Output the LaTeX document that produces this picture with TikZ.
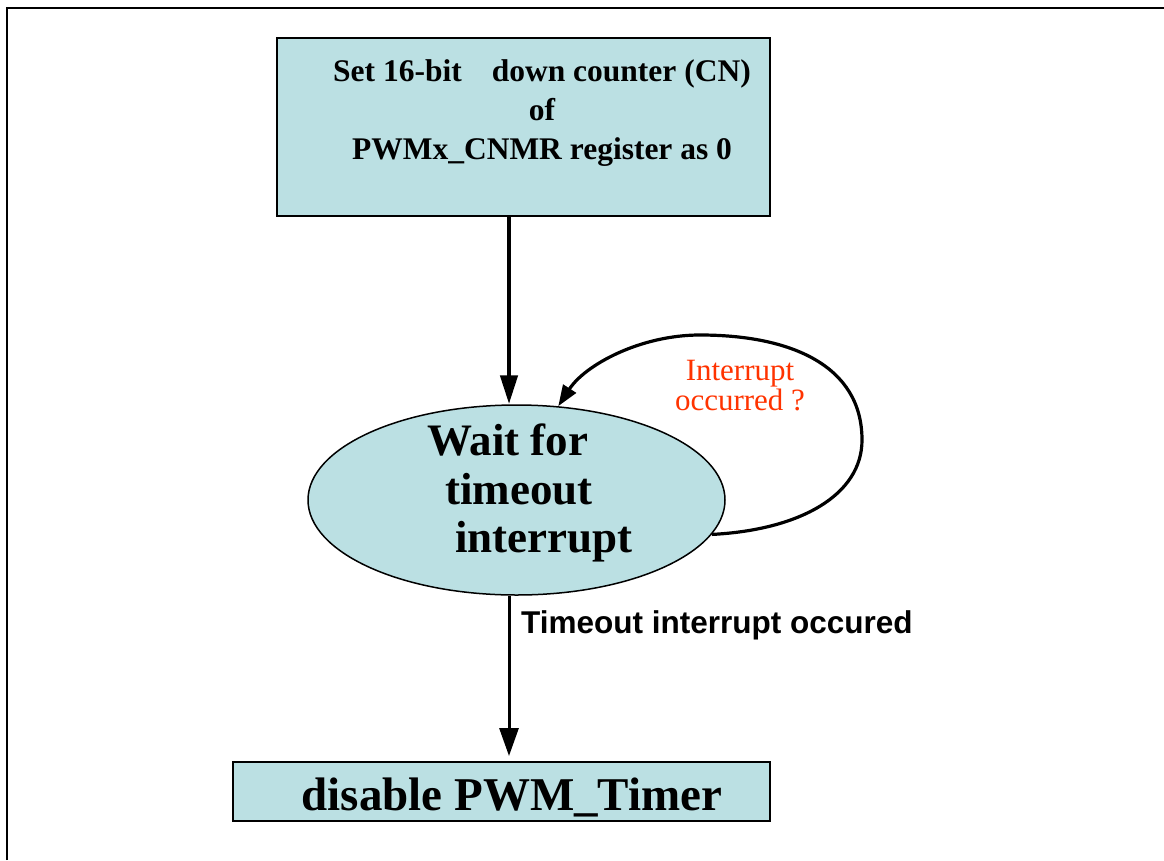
\documentclass[tikz,border=0pt]{standalone}
\usepackage{fontspec}
\setmainfont{Liberation Serif}
\newfontfamily\arialfont{Liberation Sans}
\usetikzlibrary{arrows.meta,shapes.geometric}
\definecolor{boxfill}{RGB}{187,224,227}
\definecolor{askred}{RGB}{255,51,0}

\begin{document}
\begin{tikzpicture}[x=1pt,y=-1pt,
  procbox/.style={draw,line width=2pt,fill=boxfill,rectangle,inner sep=0pt},
  waitshape/.style={draw,line width=1.5pt,fill=boxfill,ellipse,inner sep=0pt}]
\useasboundingbox (0,0) rectangle (1164,860);

% Frame
\draw[line width=2.5pt] (7,860) -- (7,8) -- (1164,8);

% Set counter
\node[procbox, minimum width=493pt, minimum height=178pt] (set) at (523.5,127) {};
\node[font=\bfseries\fontsize{31.5}{39}\selectfont, align=center, inner sep=0pt] (settxt) at (542,113)
  {Set 16-bit\hspace{30pt}down counter (CN)\\of\\PWMx\_CNMR register as 0};

% Wait state
\node[waitshape, minimum width=417pt, minimum height=190pt] (wait) at (516.5,500) {};
\node[font=\bfseries\fontsize{45}{48.5}\selectfont, align=left, anchor=west, inner sep=0pt] (waittxt) at (427,493)
  {Wait for\\\hspace*{18pt}timeout\\\hspace*{28pt}interrupt};

% Disable
\node[procbox, minimum width=537pt, minimum height=59pt] (disable) at (501.5,791.5) {};
\node[font=\bfseries\fontsize{47}{56}\selectfont, anchor=base, inner sep=0pt] (disabletxt) at (512,810)
  {disable PWM\_Timer};

% Labels
\node[text=askred, font=\fontsize{31}{30}\selectfont, align=center, inner sep=0pt] (ask) at (740,386)
  {Interrupt\\occurred ?};
\node[font=\arialfont\bfseries\fontsize{31.5}{36}\selectfont, anchor=base west, inner sep=0pt] (occ) at (521,633)
  {Timeout interrupt occured};

% Arrows
\coordinate (axis) at (509,0);
\draw[line width=4.5pt, -{Triangle[length=29pt,width=17pt]}] (set.south -| axis) -- (wait.north -| axis);
\draw[line width=3pt, -{Triangle[length=28pt,width=19pt]}, shorten >=5pt] (wait.south -| axis) -- (disable.north -| axis);
\draw[line width=3.2pt, -{Triangle[length=21pt,width=15pt]}] (wait.-10)
  .. controls (800,530) and (862,495) .. (862,440)
  .. controls (862,365) and (790,335) .. (700,335)
  .. controls (640,335) and (585,365) .. (wait.66);

\end{tikzpicture}
\end{document}
